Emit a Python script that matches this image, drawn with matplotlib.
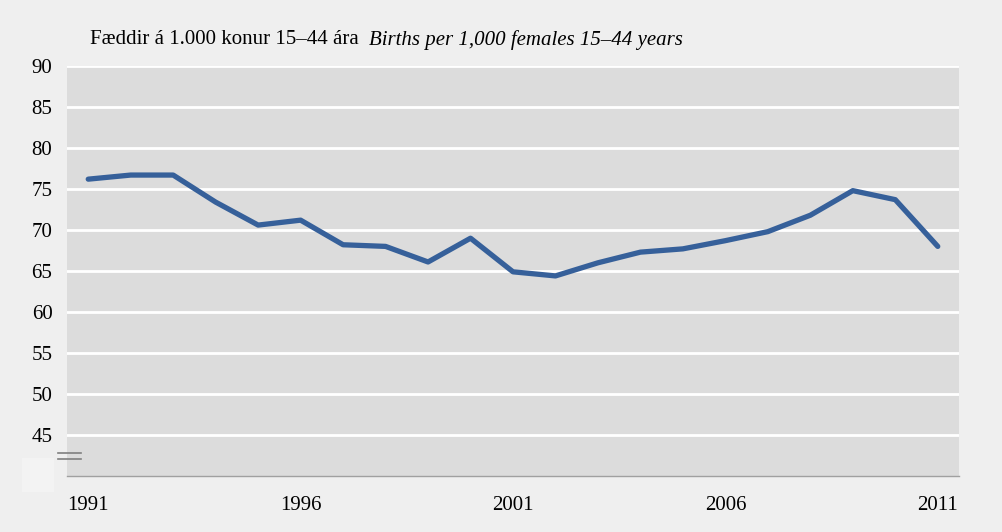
import matplotlib
matplotlib.use("Agg")
import matplotlib.pyplot as plt
from matplotlib.patches import Rectangle
from matplotlib.lines import Line2D

years = list(range(1991, 2012))
births = [76.2, 76.7, 76.7, 73.4, 70.6, 71.2, 68.2, 68.0, 66.1, 69.0, 64.9,
          64.4, 66.0, 67.3, 67.7, 68.7, 69.8, 71.8, 74.8, 73.7, 68.0]
yticks = [45, 50, 55, 60, 65, 70, 75, 80, 85, 90]
xticks = [1991, 1996, 2001, 2006, 2011]
title_is = "Fæddir á 1.000 konur 15–44 ára"
title_en = "Births per 1,000 females 15–44 years"

plt.rcParams['font.family'] = ['Liberation Serif', 'DejaVu Serif']
FS = 15

fig = plt.figure(figsize=(10.02, 5.32), dpi=100, facecolor='#efefef')
ax = fig.add_axes([67/1002, 1-476/532, (959-67)/1002, (476-66)/532])
ax.set_facecolor('#dcdcdc')

ax.set_ylim(40, 90)
ax.set_xlim(1990.5, 2011.5)
ax.set_yticks(yticks)
ax.set_xticks(xticks)
ax.yaxis.grid(True, color='white', linewidth=2)
ax.set_axisbelow(True)
for s in ['top', 'right', 'left']:
    ax.spines[s].set_visible(False)
ax.spines['bottom'].set_color('#a0a0a0')
ax.spines['bottom'].set_linewidth(1)
ax.tick_params(axis='both', length=0, labelsize=FS, colors='black')
ax.tick_params(axis='y', pad=10.5)
ax.tick_params(axis='x', pad=14.5)

ax.plot(years, births, color='#36609a', linewidth=3.8, solid_capstyle='round',
        solid_joinstyle='round', clip_on=False)

# title
t = fig.text(90/1002, 1-40/532, title_is + "  ", fontsize=FS, va='center', ha='left')
fig.canvas.draw()
bb = t.get_window_extent()
fig.text(bb.x1/1002, 1-40/532, title_en, fontsize=FS, style='italic', va='center', ha='left')

# axis break marks
fig.add_artist(Rectangle((22/1002, 1-492/532), 32/1002, 34/532, transform=fig.transFigure,
                         facecolor='#f3f3f3', edgecolor='none'))
for yy in [453, 459]:
    fig.add_artist(Line2D([58/1002, 81/1002], [1-yy/532, 1-yy/532], transform=fig.transFigure,
                          color='#808080', linewidth=1.2))

fig.savefig('out.png', dpi=100, facecolor=fig.get_facecolor())
